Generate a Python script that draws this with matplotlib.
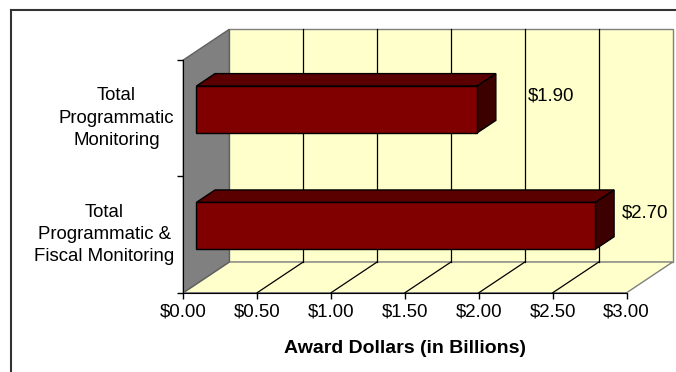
import numpy as np
import matplotlib
matplotlib.use("Agg")
import matplotlib.pyplot as plt
import matplotlib.transforms as mtransforms
from matplotlib.patches import Polygon
from matplotlib.lines import Line2D
from matplotlib.ticker import FuncFormatter

plt.rcParams['font.family'] = ['Liberation Sans', 'DejaVu Sans']

# data (bottom category first)
categories = ['Total\nProgrammatic &\nFiscal Monitoring', 'Total\nProgrammatic\nMonitoring']
values = [2.70, 1.90]
value_labels = ['$2.70', '$1.90']
xticks = [0.0, 0.5, 1.0, 1.5, 2.0, 2.5, 3.0]
xlabel = 'Award Dollars (in Billions)'

# style / 3d look
W, H = 676, 372
DX, DY = 46, 30.7          # depth offset of back wall in pixels
D0, D1 = 0.285, 0.69       # bar depth span
HALF = 0.201               # half bar thickness (category units)
label_dx = [39, 64]        # value label offsets in px
label_dy = 22
fs = 13.4
wall = '#FFFFCC'
side = '#808080'
edge_gray = '#7f7f7f'

fig = plt.figure(figsize=(W / 100, H / 100), dpi=100)
ax = fig.add_axes([183.3 / W, 1 - 292.7 / H, (626.7 - 183.3) / W, (292.7 - 60) / H])
ax.set_xlim(0, 3)
ax.set_ylim(0, len(categories))
ax.patch.set_visible(False)
ident = mtransforms.IdentityTransform()


def proj(x, y, d):
    px, py = ax.transData.transform((x, y))
    return (px + d * DX, py + d * DY)


def poly(pts, **kw):
    p = Polygon(pts, closed=True, transform=ident, clip_on=False, **kw)
    ax.add_patch(p)


ny = len(categories)
# walls
poly([proj(0, 0, 1), proj(3, 0, 1), proj(3, ny, 1), proj(0, ny, 1)],
     facecolor=wall, edgecolor=edge_gray, lw=1, zorder=0.5)
poly([proj(0, 0, 0), proj(3, 0, 0), proj(3, 0, 1), proj(0, 0, 1)],
     facecolor=wall, edgecolor=edge_gray, lw=1, zorder=0.5)
poly([proj(0, 0, 0), proj(0, ny, 0), proj(0, ny, 1), proj(0, 0, 1)],
     facecolor=side, edgecolor='#606060', lw=1, zorder=0.6)

# gridlines on back wall and floor
for t in xticks[1:-1]:
    for a, b in [(proj(t, 0, 1), proj(t, ny, 1)), (proj(t, 0, 0), proj(t, 0, 1))]:
        ax.add_line(Line2D([a[0], b[0]], [a[1], b[1]], transform=ident,
                           color='black', lw=0.9, clip_on=False, zorder=1))

# bars
ycent = np.arange(ny) + 0.5
for i, (v, yc) in enumerate(zip(values, ycent)):
    lo, hi = yc - HALF, yc + HALF
    poly([proj(0, hi, D0), proj(v, hi, D0), proj(v, hi, D1), proj(0, hi, D1)],
         facecolor='#5a0000', edgecolor='black', lw=1, zorder=3)
    poly([proj(v, lo, D0), proj(v, hi, D0), proj(v, hi, D1), proj(v, lo, D1)],
         facecolor='#3d0000', edgecolor='black', lw=1, zorder=3)
    poly([proj(0, lo, D0), proj(v, lo, D0), proj(v, hi, D0), proj(0, hi, D0)],
         facecolor='#800000', edgecolor='black', lw=1, zorder=4)
    ax.annotate(value_labels[i], xy=(v, yc), xytext=(label_dx[i] * 0.72, label_dy * 0.72),
                textcoords='offset points', ha='left', va='center', fontsize=fs,
                annotation_clip=False)

# axes
for s in ['top', 'right']:
    ax.spines[s].set_visible(False)
ax.spines['left'].set_zorder(2)
ax.spines['bottom'].set_zorder(2)
ax.set_xticks(xticks)
ax.xaxis.set_major_formatter(FuncFormatter(lambda x, p: '${:.2f}'.format(x)))
ax.tick_params(axis='x', direction='out', length=4, width=1, labelsize=fs, pad=4)
ax.set_yticks(np.arange(ny + 1))
ax.set_yticklabels([])
ax.tick_params(axis='y', which='major', direction='out', length=4, width=1)
ax.set_yticks(ycent, minor=True)
ax.set_yticklabels(categories, minor=True, fontsize=fs, ha='right', va='center',
                   multialignment='center', linespacing=1.42)
ax.tick_params(axis='y', which='minor', length=0, pad=9 * 0.72)
ax.set_xlabel(xlabel, fontsize=14, fontweight='bold', labelpad=14)

# outer frame (top and left only visible)
fig.add_artist(Line2D([11 / W, 1], [1 - 10 / H, 1 - 10 / H], transform=fig.transFigure,
                      color='#333333', lw=1.5))
fig.add_artist(Line2D([11 / W, 11 / W], [0, 1 - 10 / H], transform=fig.transFigure,
                      color='#333333', lw=1.5))

fig.savefig('out.png', dpi=100)
